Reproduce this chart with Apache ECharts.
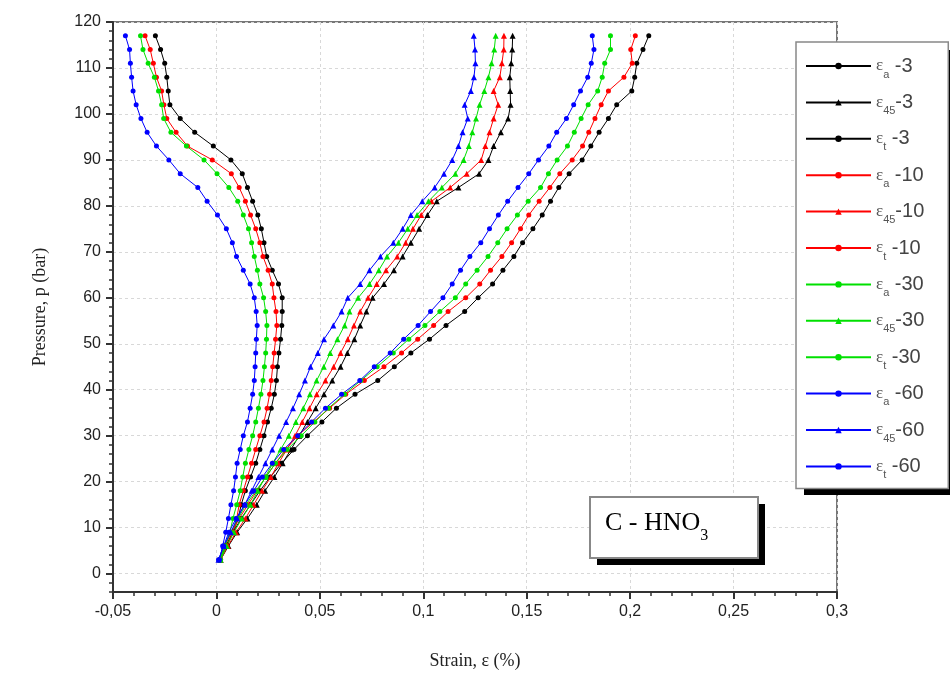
<!DOCTYPE html>
<html>
<head>
<meta charset="utf-8">
<script src="https://cdn.jsdelivr.net/npm/echarts@6/dist/echarts.min.js"></script>
<style>html,body{margin:0;padding:0;background:#fff;}#c{width:950px;height:675px;}</style>
</head>
<body>
<div id="c"></div>
<script>
// Pressure levels (bar)
const pressure = [3,6,9,12,15,18,21,24,27,30,33,36,39,42,45,48,51,54,57,60,63,66,69,72,75,78,81,84,87,90,93,96,99,102,105,108,111,114,117];

// Strain (%) – group -3 (black)
const ea_3  = [0.002,0.005,0.008,0.0105,0.012,0.014,0.0165,0.019,0.021,0.023,0.0247,0.0265,0.028,0.029,0.0295,0.0302,0.031,0.0316,0.0318,0.0318,0.030,0.027,0.0243,0.023,0.0217,0.020,0.0175,0.015,0.0125,0.007,-0.0015,-0.0105,-0.0175,-0.0225,-0.0233,-0.024,-0.025,-0.027,-0.0295];
const e45_3 = [0.002,0.0058,0.010,0.015,0.0195,0.0235,0.028,0.032,0.036,0.040,0.044,0.048,0.052,0.056,0.060,0.0633,0.0667,0.0695,0.0725,0.0755,0.081,0.0858,0.090,0.094,0.098,0.102,0.1065,0.117,0.127,0.1315,0.134,0.1375,0.141,0.1422,0.142,0.1418,0.1425,0.143,0.1432];
const et_3  = [0.0015,0.0045,0.008,0.012,0.0165,0.021,0.026,0.0315,0.0375,0.044,0.051,0.058,0.067,0.078,0.086,0.094,0.103,0.111,0.120,0.1265,0.1335,0.1385,0.1438,0.148,0.153,0.1575,0.1615,0.1655,0.1705,0.1768,0.181,0.185,0.1895,0.1935,0.2008,0.2022,0.2032,0.2062,0.209];
// group -10 (red)
const ea_10  = [0.002,0.005,0.008,0.0098,0.011,0.013,0.015,0.017,0.019,0.021,0.023,0.0245,0.0257,0.0265,0.0272,0.0279,0.0286,0.0292,0.0288,0.0278,0.027,0.025,0.0225,0.021,0.019,0.0165,0.014,0.011,0.0072,-0.002,-0.014,-0.0195,-0.024,-0.0254,-0.0265,-0.029,-0.0305,-0.032,-0.0345];
const e45_10 = [0.002,0.0055,0.0095,0.014,0.018,0.022,0.0263,0.030,0.034,0.038,0.0415,0.045,0.0485,0.0527,0.0567,0.060,0.0635,0.0665,0.0695,0.0733,0.0775,0.082,0.0874,0.0915,0.095,0.099,0.104,0.113,0.121,0.128,0.130,0.132,0.134,0.1362,0.134,0.137,0.138,0.1389,0.139];
const et_10  = [0.0015,0.004,0.0075,0.011,0.0153,0.0195,0.0238,0.0285,0.0335,0.0393,0.047,0.0547,0.0625,0.0715,0.081,0.0895,0.0973,0.105,0.112,0.1205,0.1273,0.1325,0.138,0.1427,0.147,0.151,0.156,0.1612,0.166,0.172,0.177,0.180,0.183,0.186,0.1895,0.197,0.201,0.2003,0.2025];
// group -30 (green)
const ea_30  = [0.002,0.004,0.0065,0.008,0.0098,0.0115,0.0127,0.014,0.0157,0.0175,0.019,0.0203,0.0215,0.0225,0.0232,0.0238,0.0242,0.0244,0.0238,0.0228,0.021,0.0198,0.0183,0.017,0.0155,0.013,0.0103,0.006,0.0003,-0.006,-0.0145,-0.022,-0.0255,-0.0265,-0.028,-0.030,-0.033,-0.0355,-0.0367];
const e45_30 = [0.002,0.005,0.0085,0.0123,0.0165,0.020,0.0236,0.0272,0.031,0.035,0.0384,0.042,0.0452,0.0484,0.0519,0.055,0.0585,0.062,0.0643,0.0685,0.074,0.0785,0.0825,0.088,0.0925,0.097,0.1025,0.109,0.1155,0.1195,0.122,0.1237,0.1255,0.1272,0.1295,0.1315,0.133,0.1343,0.135];
const et_30  = [0.0015,0.004,0.007,0.0105,0.0143,0.019,0.024,0.0285,0.0342,0.041,0.0476,0.0542,0.0619,0.0698,0.0777,0.0855,0.093,0.1008,0.108,0.1155,0.1205,0.126,0.1313,0.136,0.1405,0.1455,0.1507,0.1567,0.1605,0.1647,0.1697,0.173,0.1763,0.1797,0.1843,0.1865,0.1877,0.1905,0.1905];
// group -60 (blue)
const ea_60  = [0.0015,0.003,0.0045,0.0058,0.007,0.0083,0.0092,0.010,0.0115,0.013,0.015,0.0163,0.0175,0.0183,0.0187,0.019,0.0193,0.0197,0.0192,0.0183,0.0163,0.013,0.0097,0.0077,0.0048,0.0005,-0.0045,-0.009,-0.0175,-0.023,-0.029,-0.0335,-0.0365,-0.0388,-0.0403,-0.041,-0.0416,-0.042,-0.044];
const e45_60 = [0.001,0.0035,0.007,0.010,0.0137,0.017,0.0203,0.0237,0.027,0.0303,0.0337,0.037,0.040,0.0428,0.0455,0.049,0.052,0.0565,0.0605,0.0635,0.0695,0.074,0.0793,0.0855,0.090,0.094,0.0995,0.1055,0.110,0.114,0.117,0.119,0.1215,0.120,0.123,0.1245,0.1252,0.125,0.1244];
const et_60  = [0.001,0.0035,0.006,0.0095,0.0137,0.018,0.0222,0.027,0.0325,0.0393,0.046,0.0527,0.0605,0.0693,0.0763,0.084,0.0905,0.0975,0.1035,0.1095,0.114,0.118,0.1225,0.1278,0.132,0.1363,0.1408,0.1458,0.151,0.1557,0.1607,0.1645,0.1692,0.1727,0.176,0.1795,0.1812,0.1825,0.1817];

const seriesNames = ['εa -3','ε45-3','εt -3','εa -10','ε45-10','εt -10','εa -30','ε45-30','εt -30','εa -60','ε45-60','εt -60'];
const seriesValues = [ea_3,e45_3,et_3,ea_10,e45_10,et_10,ea_30,e45_30,et_30,ea_60,e45_60,et_60];

// tick labels
const xTicks = [-0.05,0,0.05,0.1,0.15,0.2,0.25,0.3];
const yTicks = [0,10,20,30,40,50,60,70,80,90,100,110,120];

const groupColors = ['#000000','#ff0000','#00e000','#0000ff'];
const xMinor = []; for (let i = -5; i <= 30; i++) xMinor.push(i / 100);
const yMinor = []; for (let v = -4; v <= 120; v += 2) yMinor.push(v);

const series = seriesNames.map((name, k) => {
  const color = groupColors[Math.floor(k / 3)];
  const isTri = (k % 3) === 1;
  return {
    name: name,
    type: 'line',
    xAxisIndex: 0, yAxisIndex: 0,
    data: seriesValues[k].map((x, i) => [x, pressure[i]]),
    symbol: isTri ? 'triangle' : 'circle',
    symbolSize: isTri ? 6 : 5,
    showSymbol: true,
    lineStyle: { color: color, width: 1 },
    itemStyle: { color: color },
    z: 3
  };
});

const chart = echarts.init(document.getElementById('c'), null, { renderer: 'canvas' });
const fmtX = v => (Math.round(v * 100) / 100).toString().replace('.', ',');
chart.setOption({
  animation: false,
  backgroundColor: '#fff',
  grid: { left: 113, right: 113, top: 22, bottom: 83, show: true, borderColor: '#777', borderWidth: 2, backgroundColor: 'transparent' },
  xAxis: [{
    type: 'value', min: -0.05, max: 0.3,
    name: 'Strain, ε (%)', nameLocation: 'middle', nameGap: 60,
    nameTextStyle: { fontFamily: 'Liberation Serif', fontSize: 18, color: '#222' },
    axisLine: { show: true, onZero: false, lineStyle: { color: '#333', width: 2 } },
    axisTick: { show: true, customValues: xTicks, length: 7, lineStyle: { color: '#333', width: 2 } },
    axisLabel: { customValues: xTicks, formatter: fmtX, fontFamily: 'Liberation Sans', fontSize: 16, color: '#222', margin: 12 },
    splitLine: { show: true, lineStyle: { color: '#d8d8d8', type: [3, 3], width: 1 } }
  }, {
    type: 'value', min: -0.05, max: 0.3, position: 'bottom',
    axisLine: { show: false, onZero: false },
    axisTick: { show: true, customValues: xMinor, length: 4, lineStyle: { color: '#333', width: 1.5 } },
    axisLabel: { show: false }, splitLine: { show: false }
  }],
  yAxis: [{
    type: 'value', min: -4, max: 120,
    name: 'Pressure, p (bar)', nameLocation: 'middle', nameGap: 64, nameRotate: 90,
    nameTextStyle: { fontFamily: 'Liberation Serif', fontSize: 18, color: '#222' },
    axisLine: { show: true, onZero: false, lineStyle: { color: '#333', width: 2 } },
    axisTick: { show: true, customValues: yTicks, length: 7, lineStyle: { color: '#333', width: 2 } },
    axisLabel: { customValues: yTicks, fontFamily: 'Liberation Sans', fontSize: 16, color: '#222', margin: 12 },
    splitLine: { show: true, lineStyle: { color: '#d8d8d8', type: [3, 3], width: 1 } }
  }, {
    type: 'value', min: -4, max: 120, position: 'left',
    axisLine: { show: false, onZero: false },
    axisTick: { show: true, customValues: yMinor, length: 4, lineStyle: { color: '#333', width: 1.5 } },
    axisLabel: { show: false }, splitLine: { show: false }
  }],
  legend: {
    orient: 'vertical', left: 796, top: 42,
    padding: [14, 24, 8, 9],
    itemWidth: 65, itemHeight: 8, itemGap: 12.4,
    backgroundColor: '#fff', borderColor: '#888', borderWidth: 1.5,
    data: seriesNames,
    formatter: function (name) {
      const m = name.match(/^ε(a|45|t)(\s?)(.*)$/);
      return '{e|ε}{s|' + m[1] + '}{v|' + m[2] + m[3] + '}';
    },
    textStyle: {
      color: '#444', fontFamily: 'Liberation Sans', fontSize: 20,
      rich: {
        e: { fontSize: 17, fontFamily: 'Liberation Serif', color: '#555', lineHeight: 22, verticalAlign: 'middle' },
        s: { fontSize: 11, color: '#555', lineHeight: 11, verticalAlign: 'bottom', padding: [0, 0, -3, 0] },
        v: { fontSize: 20, color: '#444', lineHeight: 22, verticalAlign: 'middle' }
      }
    },
    z: 5
  },
  graphic: [
    { type: 'rect', z: 1, shape: { x: 804, y: 50, width: 160, height: 445 }, style: { fill: '#000' } },
    { type: 'rect', z: 10, shape: { x: 597, y: 504, width: 168, height: 61 }, style: { fill: '#000' } },
    { type: 'rect', z: 11, shape: { x: 590, y: 497, width: 168, height: 61 }, style: { fill: '#fff', stroke: '#888', lineWidth: 2 } },
    { type: 'text', z: 12, left: 605, top: 510,
      style: { text: '{m|C - HNO}{b|3}', rich: {
        m: { fontFamily: 'Liberation Serif', fontSize: 26, color: '#111', lineHeight: 30, verticalAlign: 'middle' },
        b: { fontFamily: 'Liberation Serif', fontSize: 16, color: '#111', lineHeight: 16, verticalAlign: 'bottom', padding: [0, 0, -6, 0] }
      } } }
  ],
  series: series
});
</script>
</body>
</html>
